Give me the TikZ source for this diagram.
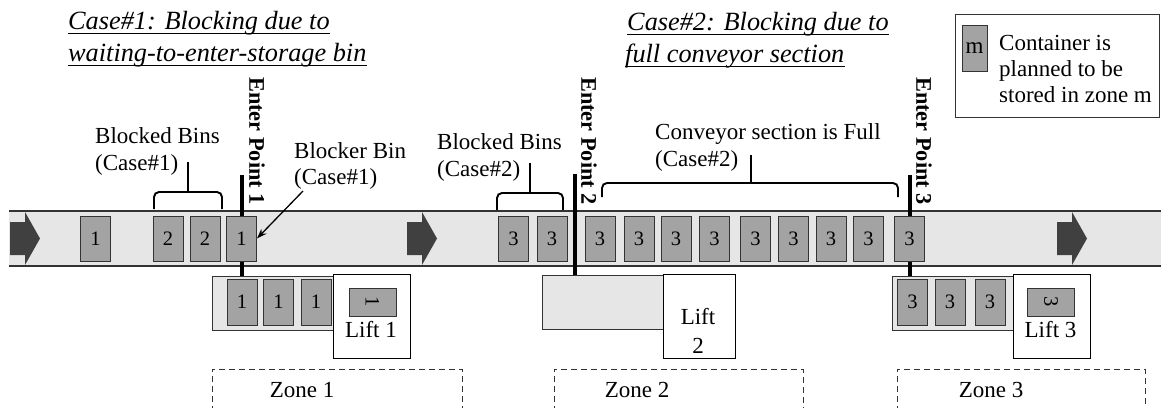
\documentclass[tikz,border=0pt]{standalone}
\usepackage{fontspec}
\setmainfont{Liberation Serif}
\usepackage{graphicx}
\usetikzlibrary{arrows.meta}
\definecolor{bandc}{HTML}{E6E6E6}
\definecolor{binc}{HTML}{A3A3A3}
\definecolor{arrc}{HTML}{404040}
\definecolor{edgec}{HTML}{333333}
\begin{document}
\begin{tikzpicture}[x=1pt,y=-1pt,
  bin/.style={draw=edgec, fill=binc, line width=0.9pt, minimum width=30pt, minimum height=45pt, inner sep=0pt, font=\fontsize{20.5}{20.5}\selectfont},
  hbin/.style={bin, minimum width=47pt, minimum height=28pt},
  buffer/.style={draw=edgec, fill=bandc, line width=0.9pt, minimum width=121pt, minimum height=54pt, inner sep=0pt},
  liftbox/.style={draw=black, fill=white, line width=0.9pt, minimum width=77pt, minimum height=84pt, inner sep=0pt},
  lbl/.style={inner sep=0pt, anchor=base west, font=\fontsize{23}{27}\selectfont},
  clbl/.style={lbl, anchor=base},
  ttl/.style={inner sep=0pt, anchor=base west, font=\fontsize{26.3}{32}\selectfont\itshape},
  eptext/.style={rotate=-90, inner sep=0pt, font=\fontsize{22.3}{22.3}\selectfont\bfseries},
  epline/.style={line width=4pt, black},
  brace/.style={line width=1.9pt, black, rounded corners=5pt},
  zonebox/.style={draw=black!80, line width=0.9pt, dash pattern=on 6pt off 4pt},
  flow/.style={fill=arrc}
]
\useasboundingbox (0,0) rectangle (1161,407);

% titles
\node[ttl] (t1a) at (68,29) {Case\#1: Blocking due to};
\node[ttl] (t1b) at (68,61) {waiting-to-enter-storage bin};
\node[ttl] (t2a) at (627,30) {Case\#2: Blocking due to};
\node[ttl] (t2b) at (625,62) {full conveyor section};
\foreach \t in {t1a,t1b,t2a,t2b}{
  \draw[line width=1pt] ([yshift=-4pt]\t.base west) -- ([yshift=-4pt]\t.base east);
}

% legend
\node[draw=black!80, line width=0.9pt, minimum width=204pt, minimum height=103pt, inner sep=0pt] (legend) at (1057,65.5) {};
\node[bin, minimum width=25pt, minimum height=46pt, font=\fontsize{23}{23}\selectfont] (lgbin) at (974.5,48) {m};
\node[lbl] (lg1) at (999,50) {Container is};
\node[lbl] (lg2) at (999,76) {planned to be};
\node[lbl] (lg3) at (999,102) {stored in zone m};

% conveyor band
\fill[bandc] (9,211) rectangle (1161,266);
\draw[edgec, line width=1.2pt] (9,211) -- (1161,211);
\draw[edgec, line width=1.2pt] (9,266) -- (1161,266);
\foreach \x in {10,407,1057}{
  \fill[flow] (\x,222) -- (\x+15,222) -- (\x+15,212) -- (\x+30,238.5) -- (\x+15,265) -- (\x+15,255) -- (\x,255) -- cycle;
}

% enter point lines
\coordinate (ep1top) at (242,175);
\coordinate (ep1bot) at (242,276);
\coordinate (ep2top) at (575,174);
\coordinate (ep2bot) at (575,275);
\coordinate (ep3top) at (910,175);
\coordinate (ep3bot) at (910,276);
\draw[epline] (ep1top) -- (ep1bot);
\draw[epline] (ep2top) -- (ep2bot);
\draw[epline] (ep3top) -- (ep3bot);
\node[eptext] (ep1) at (257,141) {Enter Point 1};
\node[eptext] (ep2) at (589,141) {Enter Point 2};
\node[eptext] (ep3) at (924,141) {Enter Point 3};

% conveyor bins, case 1
\node[bin] (a1) at (95.5,238.5) {1};
\node[bin] (a2) at (168,238.5) {2};
\node[bin] (a3) at (205,238.5) {2};
\node[bin] (a4) at (241.5,238.5) {1};

% conveyor bins, case 2
\node[bin] (b1) at (513.5,238.5) {3};
\node[bin] (b2) at (552,238.5) {3};
\node[bin] (b3) at (600,238.5) {3};
\node[bin] (b4) at (639,238.5) {3};
\node[bin] (b5) at (676,238.5) {3};
\node[bin] (b6) at (714.5,238.5) {3};
\node[bin] (b7) at (755.5,238.5) {3};
\node[bin] (b8) at (793.5,238.5) {3};
\node[bin] (b9) at (831,238.5) {3};
\node[bin] (b10) at (868.5,238.5) {3};
\node[bin] (b11) at (909.5,238.5) {3};

% lower buffers and lifts
\node[buffer] (buf1) at (272.5,303) {};
\node[liftbox] (lift1) at (371.5,316) {};
\node[bin, minimum height=46pt] (d1) at (242,302) {1};
\node[bin, minimum height=46pt] (d2) at (278.5,302) {1};
\node[bin, minimum height=46pt] (d3) at (316,302) {1};
\node[hbin] (lb1) at (372.5,302) {\rotatebox{-90}{1}};
\node[clbl] (lt1) at (371,337) {Lift 1};

\node[buffer] (buf2) at (602.5,302.5) {};
\node[liftbox, minimum width=72pt] (lift2) at (699,316) {};
\node[clbl] (lt2a) at (698,324) {Lift};
\node[clbl] (lt2b) at (698,353) {2};

\node[buffer] (buf3) at (952.5,303) {};
\node[liftbox] (lift3) at (1051.5,316) {};
\node[bin, minimum height=46pt] (e1) at (912.5,302) {3};
\node[bin, minimum height=46pt] (e2) at (950,302) {3};
\node[bin, minimum height=46pt] (e3) at (990,302) {3};
\node[hbin] (lb3) at (1051,302) {\rotatebox{-90}{3}};
\node[clbl] (lt3) at (1050.5,337) {Lift 3};

% zones
\draw[zonebox] (212,412) -- (212,369) -- (462,369) -- (462,412);
\draw[zonebox] (554,412) -- (554,369) -- (803,369) -- (803,412);
\draw[zonebox] (897,412) -- (897,369) -- (1145,369) -- (1145,412);
\node[clbl] (z1) at (302,397) {Zone 1};
\node[clbl] (z2) at (637,397) {Zone 2};
\node[clbl] (z3) at (991,397) {Zone 3};

% braces
\draw[brace] (154,209) -- (154,192) -- (222,192) -- (222,209);
\draw[line width=1.9pt] (188,192) -- (188,162);
\draw[brace] (497,210) -- (497,193) -- (563,193) -- (563,210);
\draw[line width=1.9pt] (530,193) -- (530,163);
\draw[brace] (602,197) -- (602,183) -- (898,183) -- (898,197);
\draw[line width=1.9pt] (751,183) -- (751,155);

% labels
\node[lbl] (bb1a) at (95,143) {Blocked Bins};
\node[lbl] (bb1b) at (95,170) {(Case\#1)};
\node[lbl] (bk1a) at (294,158) {Blocker Bin};
\node[lbl] (bk1b) at (294,184) {(Case\#1)};
\node[lbl] (bb2a) at (437,149) {Blocked Bins};
\node[lbl] (bb2b) at (437,176) {(Case\#2)};
\node[lbl] (cf1) at (655,139) {Conveyor section is Full};
\node[lbl] (cf2) at (655,166) {(Case\#2)};

\coordinate (arrstart) at (303,191);
\draw[line width=1.3pt, -{Stealth[length=10pt,width=7pt]}] (arrstart) -- (a4.east);
\end{tikzpicture}
\end{document}
